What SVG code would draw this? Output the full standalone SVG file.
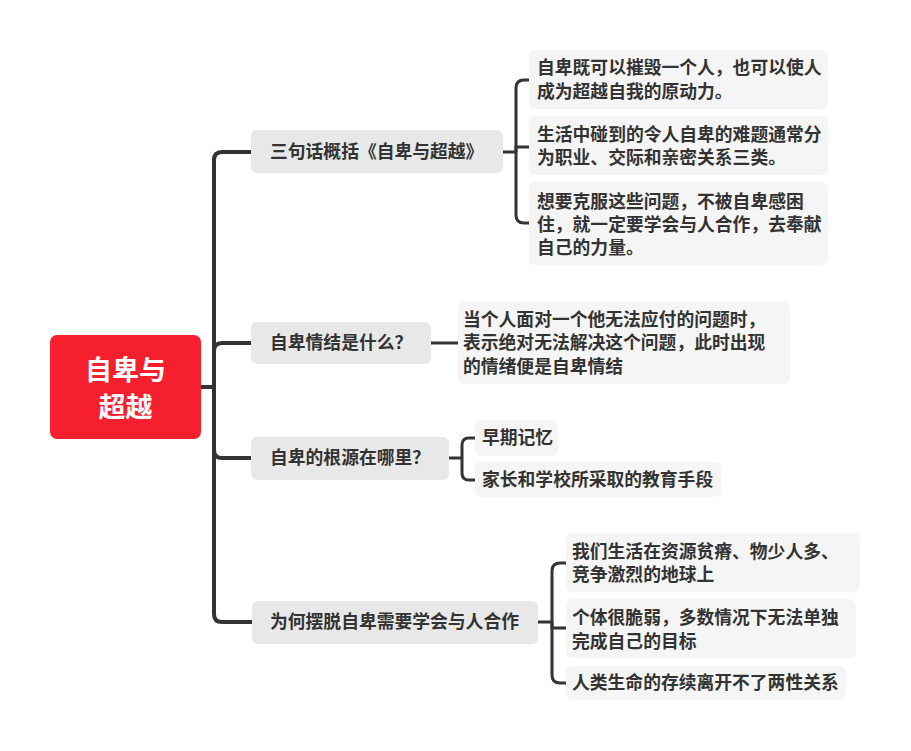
<svg xmlns="http://www.w3.org/2000/svg" width="911" height="751" viewBox="0 0 911 751">
<style>
text{font-family:"Noto Sans CJK SC","Noto Sans",sans-serif;font-weight:bold;fill:#333333;font-size:17.8px}
.root text{fill:#ffffff;font-size:27px;text-anchor:middle}
.branch rect{fill:#e8e8e8}
.leaf rect{fill:#f5f5f5}
.trunk{fill:none;stroke:#333333;stroke-width:4;stroke-linecap:butt}
.br{fill:none;stroke:#333333;stroke-width:3}
</style>
<rect width="911" height="751" fill="#ffffff"/>
<g id="connectors">
<path class="trunk" d="M200 387 H214"/>
<path class="trunk" d="M214 387 V160 Q214 152 222 152 H251"/>
<path class="trunk" d="M214 387 V351 Q214 343 222 343 H251"/>
<path class="trunk" d="M214 387 V450 Q214 458 222 458 H251"/>
<path class="trunk" d="M214 387 V614 Q214 622 222 622 H252"/>
<path class="br" d="M503 152 H516"/>
<path class="br" d="M516 152 V88 Q516 80 524 80 H529"/>
<path class="br" d="M516 152 V147 H529"/>
<path class="br" d="M516 152 V215 Q516 223 524 223 H529"/>
<path class="br" d="M431 343 H458"/>
<path class="br" d="M449 458 H462"/>
<path class="br" d="M462 458 V445 Q462 438 469 438 H475"/>
<path class="br" d="M462 458 V473 Q462 480 469 480 H475"/>
<path class="br" d="M538 622 H552"/>
<path class="br" d="M552 622 V571 Q552 563 560 563 H566"/>
<path class="br" d="M552 622 V628 H566"/>
<path class="br" d="M552 622 V675 Q552 683 560 683 H566"/>
</g>
<g id="root" class="root">
<rect x="50" y="335" width="151" height="104" rx="7" fill="#f61f2e"/>
<text x="125.5" y="380">自卑与</text>
<text x="125.5" y="417">超越</text>
</g>
<g id="b1" class="branch">
<rect x="251" y="130" width="252" height="43" rx="6"/>
<text x="270" y="158">三句话概括《自卑与超越》</text>
</g>
<g id="b2" class="branch">
<rect x="251" y="322" width="180" height="42" rx="6"/>
<text x="270" y="349">自卑情结是什么？</text>
</g>
<g id="b3" class="branch">
<rect x="251" y="437" width="198" height="43" rx="6"/>
<text x="270" y="464">自卑的根源在哪里？</text>
</g>
<g id="b4" class="branch">
<rect x="252" y="601" width="286" height="43" rx="6"/>
<text x="270" y="628">为何摆脱自卑需要学会与人合作</text>
</g>
<g id="l1a" class="leaf">
<rect x="529" y="50" width="299" height="59" rx="6"/>
<text x="537" y="74">自卑既可以摧毁一个人，也可以使人</text>
<text x="537" y="98">成为超越自我的原动力。</text>
</g>
<g id="l1b" class="leaf">
<rect x="529" y="116" width="299" height="59" rx="6"/>
<text x="537" y="141">生活中碰到的令人自卑的难题通常分</text>
<text x="537" y="164">为职业、交际和亲密关系三类。</text>
</g>
<g id="l1c" class="leaf">
<rect x="529" y="182" width="299" height="83" rx="6"/>
<text x="537" y="208">想要克服这些问题，不被自卑感困</text>
<text x="537" y="231">住，就一定要学会与人合作，去奉献</text>
<text x="537" y="254">自己的力量。</text>
</g>
<g id="l2a" class="leaf">
<rect x="458" y="302" width="332" height="82" rx="6"/>
<text x="463" y="326">当个人面对一个他无法应付的问题时，</text>
<text x="463" y="349">表示绝对无法解决这个问题，此时出现</text>
<text x="463" y="373">的情绪便是自卑情结</text>
</g>
<g id="l3a" class="leaf">
<rect x="475" y="420" width="83" height="36" rx="6"/>
<text x="482" y="444">早期记忆</text>
</g>
<g id="l3b" class="leaf">
<rect x="475" y="462" width="246" height="35" rx="6"/>
<text x="482" y="486">家长和学校所采取的教育手段</text>
</g>
<g id="l4a" class="leaf">
<rect x="566" y="533" width="294" height="59" rx="6"/>
<text x="572" y="558">我们生活在资源贫瘠、物少人多、</text>
<text x="572" y="581">竞争激烈的地球上</text>
</g>
<g id="l4b" class="leaf">
<rect x="566" y="599" width="290" height="59" rx="6"/>
<text x="572" y="624">个体很脆弱，多数情况下无法单独</text>
<text x="572" y="648">完成自己的目标</text>
</g>
<g id="l4c" class="leaf">
<rect x="566" y="666" width="280" height="34" rx="6"/>
<text x="572" y="689">人类生命的存续离开不了两性关系</text>
</g>
</svg>
